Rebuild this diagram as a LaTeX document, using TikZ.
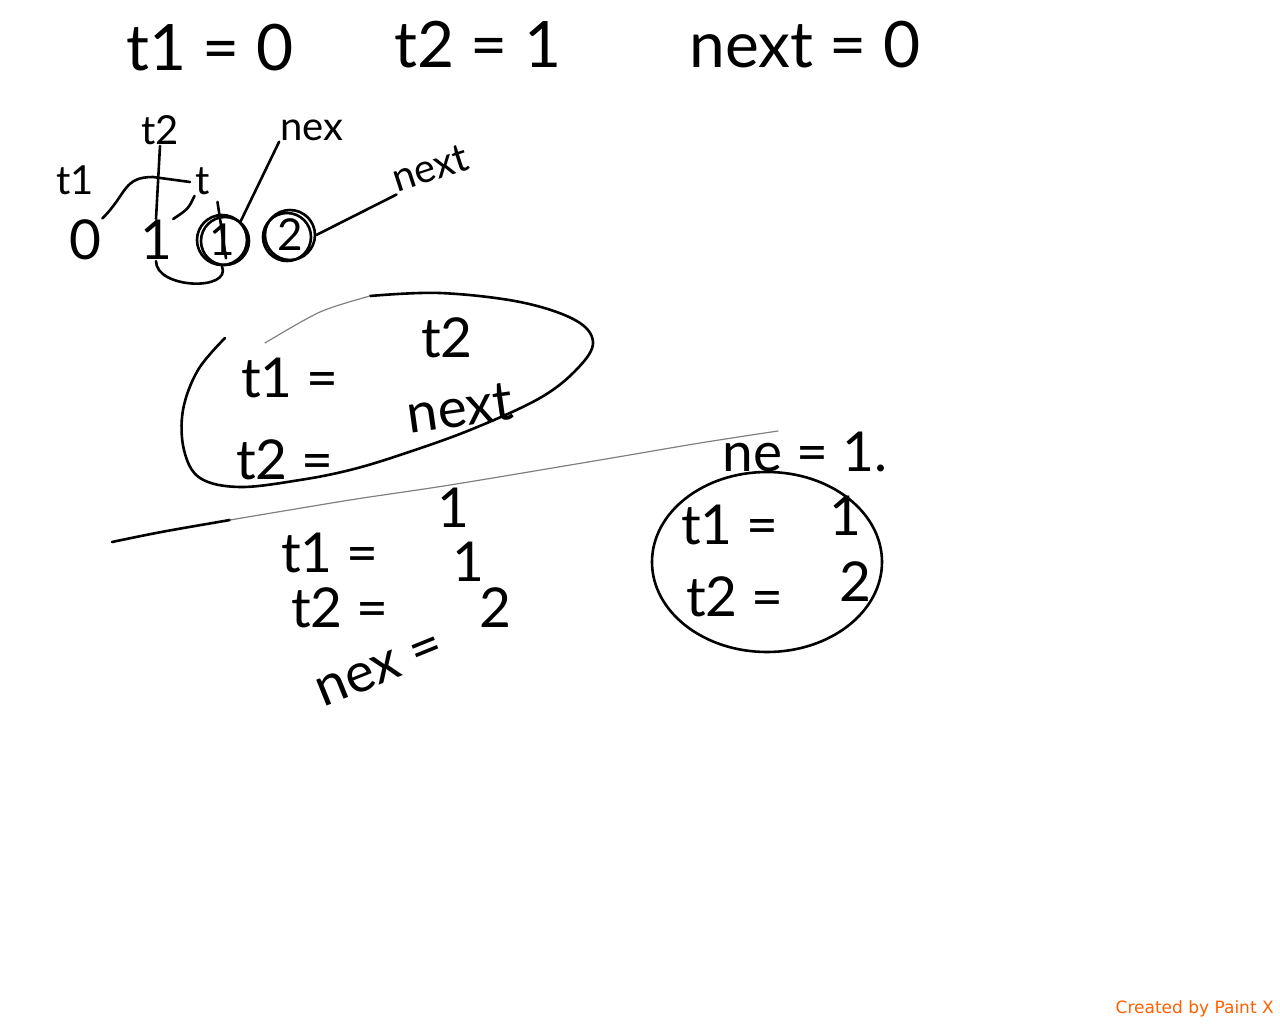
\documentclass[tikz,border=0pt]{standalone}
\usepackage{fontspec}
\setmainfont{Lato}
\newfontfamily\creditfont{DejaVu Sans}
\usetikzlibrary{calc}
\definecolor{pxorange}{RGB}{255,96,0}

\begin{document}
\begin{tikzpicture}[x=1pt,y=-1pt,line width=2.6pt,line cap=round,line join=round]
  \tikzstyle{top}=[font=\fontsize{64}{66}\selectfont,inner sep=0pt]
  \tikzstyle{big}=[font=\fontsize{55}{57}\selectfont,inner sep=0pt]
  \tikzstyle{lbl}=[font=\fontsize{40}{42}\selectfont,inner sep=0pt]
  \tikzstyle{num}=[circle,draw,line width=2.6pt,minimum size=50pt,inner sep=0pt,font=\fontsize{44}{46}\selectfont]
  \tikzstyle{rule}=[gray,line width=1.2pt]
  \useasboundingbox (0,0) rectangle (1280,1024);
  \node[top] (t1init) at (210,48) {t1 = 0};
  \node[top] (t2init) at (478,45) {t2 = 1};
  \node[top] (nextinit) at (805,45) {next = 0};
  \node[big] (zero) at (85,240) {0};
  \node[big] (one) at (156,240) {1};
  \node[num] (c1) at (222,240) {1};
  \node[num] (c2) at (290,235) {2};
  \draw ($(c1.center)+(3,1)$) circle (24pt);
  \draw ($(c2.center)+(-3,2)$) circle (24pt);
  \node[lbl] (lt1) at (75,180) {t1};
  \node[lbl] (lt2) at (160,130) {t2};
  \node[lbl] (lt) at (203,181) {t};
  \node[lbl] (lnex) at (312,130) {nex};
  \node[lbl,rotate=18] (lnext) at (430,168) {next};
  \coordinate (tbar) at (190,182);
  \draw (zero.north east) .. controls +(25,-25) and +(-30,0) .. (153,177) -- (tbar);
  \draw (lt2.south) -- (one.north);
  \draw (one.north east) .. controls +(15,-10) .. (lt.south west);
  \draw ($(lt.south east)+(6,6)$) -- ($(c1.south)+(4,-8)$);
  \draw (lnex.south west) -- (c1.north east);
  \draw (c2.east) -- (lnext.south west);
  \draw (one.south) .. controls +(0,28) and +(10,25) .. (c1.south);
  \draw plot[smooth,tension=0.6] coordinates {(225,338) (198,370) (183,410) (184,450) (200,478) (240,487) (300,480) (350,470) (400,455) (470,430) (540,398) (578,368) (593,342) (575,320) (520,302) (440,293) (370,296)};
  \draw[rule] plot[smooth] coordinates {(370,296) (320,312) (265,343)};
  \node[big] (a1l) at (290,378) {t1 =};
  \node[big] (a1r) at (447,338) {t2};
  \node[big] (a2l) at (285,460) {t2 =};
  \node[big,rotate=8] (a2r) at (460,408) {next};
  \draw (112,542) .. controls (160,532) .. (230,520);
  \draw[rule] plot[smooth] coordinates {(230,520) (350,500) (450,485) (600,460) (700,443) (778,431)};
  \node[big] (b1l) at (330,553) {t1 =};
  \node[big] (b1r) at (453,508) {1};
  \node[big] (b2r) at (468,562) {1};
  \node[big] (b2l) at (340,608) {t2 =};
  \node[big] (b3r) at (495,608) {2};
  \node[big,rotate=22] (b3l) at (380,670) {nex =};
  \node[big] (nel) at (805,452) {ne = 1.};
  \draw (767,562) ellipse [x radius=115pt,y radius=90pt];
  \node[big] (r1l) at (730,525) {t1 =};
  \node[big] (r1r) at (845,516) {1};
  \node[big] (r2l) at (735,597) {t2 =};
  \node[big] (r2r) at (855,582) {2};
  \node[anchor=east,inner sep=0pt,text=pxorange,font=\fontsize{17}{18}\selectfont\creditfont] (credit) at (1275,1009) {Created by Paint X};
\end{tikzpicture}
\end{document}
